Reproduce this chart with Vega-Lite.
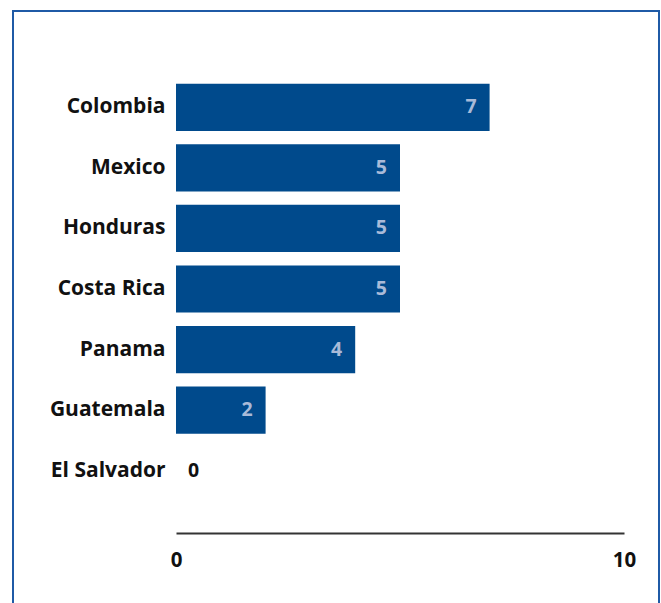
{
  "$schema": "https://vega.github.io/schema/vega-lite/v6.json",
  "autosize": "none",
  "width": 646,
  "height": 600,
  "padding": {"left": 13, "top": 11, "right": 2, "bottom": 0},
  "background": "white",
  "config": {
    "view": {"stroke": "#1f5aa6", "strokeWidth": 2},
    "font": "Open Sans"
  },
  "data": {
    "values": [
      {"country": "Colombia", "value": 7},
      {"country": "Mexico", "value": 5},
      {"country": "Honduras", "value": 5},
      {"country": "Costa Rica", "value": 5},
      {"country": "Panama", "value": 4},
      {"country": "Guatemala", "value": 2},
      {"country": "El Salvador", "value": 0}
    ]
  },
  "encoding": {
    "y": {
      "field": "country",
      "type": "nominal",
      "sort": null,
      "scale": {"range": [66, 490], "paddingInner": 0.22, "paddingOuter": 0.11},
      "axis": {
        "title": null,
        "orient": "left",
        "offset": -163,
        "domain": false,
        "ticks": false,
        "labelPadding": 11,
        "labelFont": "Open Sans",
        "labelFontWeight": "bold",
        "labelFontSize": 21,
        "labelColor": "#111111"
      }
    },
    "x": {
      "field": "value",
      "type": "quantitative",
      "scale": {"domain": [0, 10], "range": [163, 611]},
      "axis": {
        "title": null,
        "orient": "bottom",
        "offset": -78,
        "values": [0, 10],
        "grid": false,
        "ticks": false,
        "domainColor": "#333333",
        "domainWidth": 2,
        "labelPadding": 17,
        "labelFont": "Open Sans",
        "labelFontWeight": "bold",
        "labelFontSize": 20.5,
        "labelColor": "#111111",
        "labelFlush": false
      }
    }
  },
  "layer": [
    {"mark": {"type": "bar", "color": "#004a8c"}},
    {
      "transform": [{"filter": "datum.value > 0"}],
      "mark": {"type": "text", "align": "right", "dx": -13, "font": "Open Sans", "fontWeight": "bold", "fontSize": 19.5, "color": "#a9bad8"},
      "encoding": {"text": {"field": "value", "type": "quantitative"}}
    },
    {
      "transform": [{"filter": "datum.value == 0"}],
      "mark": {"type": "text", "align": "left", "dx": 12, "font": "Open Sans", "fontWeight": "bold", "fontSize": 19.5, "color": "#111111"},
      "encoding": {"text": {"field": "value", "type": "quantitative"}}
    }
  ]
}
